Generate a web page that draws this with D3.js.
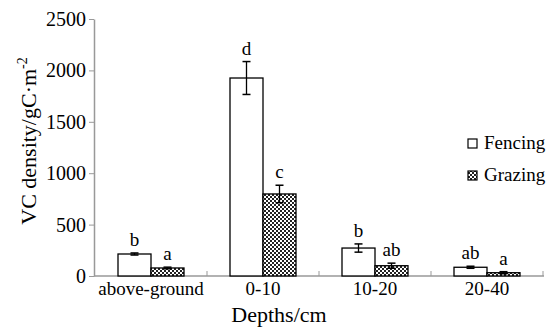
<!DOCTYPE html>
<html><head><meta charset="utf-8">
<script src="https://cdn.jsdelivr.net/npm/d3@7"></script>
<style>body{margin:0;background:#fff}svg{display:block}text{font-family:"Liberation Serif","Times New Roman",serif;fill:#000}</style>
</head><body><svg id="c" width="550" height="327"></svg>
<script>
const categories = ["above-ground","0-10","10-20","20-40"];
const series = ["Fencing","Grazing"];
const fencing = [214, 1926, 272, 85];
const grazing = [78, 798, 100, 32];
const fencingErr = [10, 160, 40, 10];
const grazingErr = [8, 85, 25, 10];
const fencingLetters = ["b","d","b","ab"];
const grazingLetters = ["a","c","ab","a"];
const yTicks = [0,500,1000,1500,2000,2500];

const svg = d3.select("#c");
const defs = svg.append("defs");
const pat = defs.append("pattern").attr("id","chk").attr("patternUnits","userSpaceOnUse").attr("width",4).attr("height",4);
pat.append("rect").attr("width",4).attr("height",4).attr("fill","#fff");
pat.append("rect").attr("width",2).attr("height",2).attr("fill","#222");
pat.append("rect").attr("x",2).attr("y",2).attr("width",2).attr("height",2).attr("fill","#222");

const x0 = d3.scaleBand().domain(categories).range([95,543]).padding(0);
const x1 = d3.scaleBand().domain(series).range([0,66]);
const y = d3.scaleLinear().domain([0,2500]).range([276,19]);

// y axis
const ya = svg.append("g").attr("transform","translate(94,0)")
  .call(d3.axisLeft(y).tickValues(yTicks).tickFormat(d3.format("d")).tickSize(5).tickSizeOuter(0));
ya.select(".domain").attr("stroke","#999").attr("stroke-width",1.5);
ya.selectAll(".tick line").attr("stroke","#999");
ya.selectAll(".tick text").attr("font-size",20).attr("font-family","Liberation Serif").attr("fill","#000").attr("x",-8);

// x axis
const xa = svg.append("g").attr("transform","translate(0,276)");
xa.append("line").attr("x1",94).attr("x2",544).attr("stroke","#999").attr("stroke-width",1.5);
const bounds = categories.map(c=>x0(c)).concat([x0.range()[1]]);
xa.selectAll(".bt").data(bounds.slice(1)).join("line")
  .attr("x1",d=>d).attr("x2",d=>d).attr("y1",0).attr("y2",-5).attr("stroke","#999");
xa.selectAll(".lab").data(categories).join("text")
  .attr("x",d=>x0(d)+x0.bandwidth()/2).attr("y",19).attr("text-anchor","middle").attr("font-size",19).text(d=>d);

const data = categories.map((c,i)=>({c, vals:[
  {s:"Fencing", v:fencing[i], e:fencingErr[i], l:fencingLetters[i]},
  {s:"Grazing", v:grazing[i], e:grazingErr[i], l:grazingLetters[i]}]}));

const g = svg.selectAll(".grp").data(data).join("g")
  .attr("transform",d=>`translate(${x0(d.c)+x0.bandwidth()/2-33},0)`);
const b = g.selectAll(".b").data(d=>d.vals).join("g");
b.append("rect").attr("x",d=>x1(d.s)).attr("width",x1.bandwidth())
  .attr("y",d=>y(d.v)).attr("height",d=>y(0)-y(d.v))
  .attr("fill",d=>d.s==="Fencing"?"#fff":"url(#chk)").attr("stroke","#000").attr("stroke-width",1.3);
const cx = d=>x1(d.s)+x1.bandwidth()/2;
b.append("line").attr("x1",cx).attr("x2",cx).attr("y1",d=>y(d.v+d.e)).attr("y2",d=>y(Math.max(0,d.v-d.e))).attr("stroke","#000").attr("stroke-width",1.3);
b.append("line").attr("x1",d=>cx(d)-4).attr("x2",d=>cx(d)+4).attr("y1",d=>y(d.v+d.e)).attr("y2",d=>y(d.v+d.e)).attr("stroke","#000").attr("stroke-width",1.5);
b.append("line").attr("x1",d=>cx(d)-4).attr("x2",d=>cx(d)+4).attr("y1",d=>y(Math.max(0,d.v-d.e))).attr("y2",d=>y(Math.max(0,d.v-d.e))).attr("stroke","#000").attr("stroke-width",1.5);
b.append("text").attr("x",cx).attr("y",d=>y(d.v+d.e)-7).attr("text-anchor","middle").attr("font-size",19).text(d=>d.l);

// axis titles
svg.append("text").attr("x",279).attr("y",322).attr("text-anchor","middle").attr("font-size",22).text("Depths/cm");
const yt = svg.append("text").attr("transform","translate(36,141) rotate(-90)").attr("text-anchor","middle").attr("font-size",22);
yt.append("tspan").text("VC density/gC·m");
yt.append("tspan").attr("font-size",14).attr("dy",-9).text("-2");

// legend
const lg = svg.append("g");
series.forEach((s,i)=>{
  const yy = 143 + i*32;
  lg.append("rect").attr("x",468).attr("y",yy-4).attr("width",9).attr("height",9)
    .attr("fill",s==="Fencing"?"#fff":"url(#chk)").attr("stroke","#000").attr("stroke-width",1.2);
  lg.append("text").attr("x",484).attr("y",yy+6).attr("font-size",19).text(s);
});
</script></body></html>
